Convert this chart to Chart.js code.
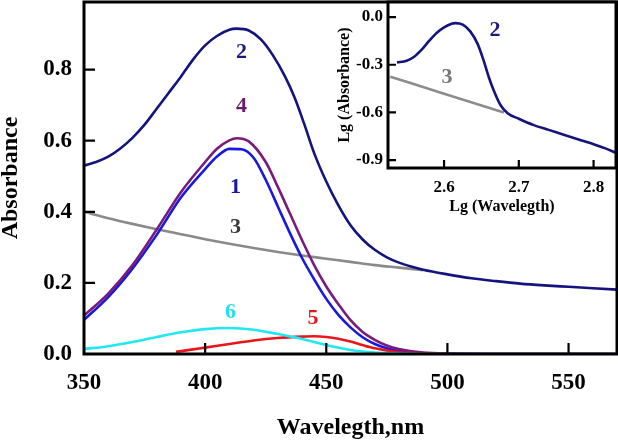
<!DOCTYPE html>
<html>
<head>
<meta charset="utf-8">
<script src="https://cdn.jsdelivr.net/npm/chart.js@4.4.0/dist/chart.umd.min.js"></script>
<style>
  html, body { margin: 0; padding: 0; background: #fff; }
  #wrap { position: relative; width: 618px; height: 443px; }
  #mainChart { position: absolute; left: 0; top: 0; }
  #insetChart { position: absolute; left: 330px; top: 0; }
</style>
</head>
<body>
<div id="wrap">
  <canvas id="mainChart" width="618" height="443"></canvas>
  <canvas id="insetChart" width="288" height="230"></canvas>
</div>
<script>
// main spectra: wavelength (nm) / absorbance
const wl1 = [350, 360, 370, 380, 390, 400, 405, 410, 415, 420, 425, 430, 435, 440, 445, 450, 455, 460, 465, 470, 475, 480, 490, 500, 520, 540, 570];
const abs1 = [0.096, 0.16, 0.24, 0.335, 0.44, 0.52, 0.556, 0.577, 0.576, 0.552, 0.49, 0.415, 0.34, 0.27, 0.21, 0.155, 0.11, 0.075, 0.047, 0.028, 0.016, 0.008, 0.002, 0.001, 0, 0, 0];

const wl2 = [350, 355, 360, 365, 370, 375, 380, 385, 390, 395, 400, 405, 410, 413, 418, 423, 428, 433, 437, 441, 445, 450, 455, 460, 465, 470, 475, 480, 485, 490, 500, 510, 520, 530, 540, 550, 560, 570];
const abs2 = [0.53, 0.54, 0.555, 0.578, 0.608, 0.645, 0.69, 0.735, 0.78, 0.828, 0.868, 0.895, 0.912, 0.915, 0.91, 0.885, 0.84, 0.78, 0.72, 0.645, 0.565, 0.485, 0.418, 0.362, 0.322, 0.293, 0.272, 0.257, 0.246, 0.237, 0.224, 0.213, 0.205, 0.198, 0.193, 0.189, 0.185, 0.181];

const wl3 = [350, 360, 370, 380, 390, 400, 410, 420, 430, 440, 450, 460, 470, 480, 490];
const abs3 = [0.40, 0.382, 0.366, 0.351, 0.337, 0.323, 0.31, 0.298, 0.287, 0.277, 0.268, 0.259, 0.25, 0.243, 0.236];

const wl4 = [350, 360, 370, 380, 390, 400, 405, 410, 413, 418, 425, 430, 435, 440, 445, 450, 455, 460, 465, 470, 475, 480, 490, 500, 520, 540, 570];
const abs4 = [0.108, 0.17, 0.25, 0.35, 0.455, 0.54, 0.578, 0.601, 0.607, 0.598, 0.54, 0.47, 0.395, 0.32, 0.25, 0.19, 0.14, 0.095, 0.062, 0.04, 0.024, 0.014, 0.004, 0.001, 0, 0, 0];

const wl5 = [388, 395, 400, 410, 420, 430, 440, 445, 450, 455, 460, 465, 470, 475, 480, 490, 500, 570];
const abs5 = [0.006, 0.013, 0.018, 0.028, 0.038, 0.045, 0.049, 0.05, 0.048, 0.043, 0.035, 0.025, 0.016, 0.01, 0.005, 0.001, 0, 0];

const wl6 = [350, 360, 370, 380, 390, 400, 410, 420, 430, 440, 450, 460, 470, 480, 490, 500, 570];
const abs6 = [0.014, 0.022, 0.034, 0.048, 0.061, 0.07, 0.073, 0.068, 0.056, 0.042, 0.025, 0.011, 0.004, 0.001, 0, 0, 0];

const xTicks = [350, 400, 450, 500, 550];
const xTickLabels = ['350', '400', '450', '500', '550'];
const yTicks = [0, 0.2, 0.4, 0.6, 0.8];
const yTickLabels = ['0.0', '0.2', '0.4', '0.6', '0.8'];

// inset: lg(wavelength) / lg(absorbance)
const lgWl2 = [2.537, 2.55, 2.56, 2.57, 2.58, 2.59, 2.60, 2.61, 2.615, 2.625, 2.635, 2.645, 2.652, 2.66, 2.668, 2.675, 2.685, 2.70, 2.72, 2.74, 2.76, 2.78, 2.80, 2.815, 2.83];
const lgAbs2 = [-0.285, -0.275, -0.25, -0.205, -0.15, -0.10, -0.065, -0.042, -0.038, -0.048, -0.09, -0.17, -0.26, -0.38, -0.48, -0.55, -0.605, -0.64, -0.68, -0.71, -0.74, -0.77, -0.80, -0.825, -0.855];
const lgWl3 = [2.528, 2.60, 2.68];
const lgAbs3 = [-0.375, -0.482, -0.60];

const insetXTicks = [2.6, 2.7, 2.8];
const insetXTickLabels = ['2.6', '2.7', '2.8'];
const insetYTicks = [0, -0.3, -0.6, -0.9];
const insetYTickLabels = ['0.0', '-0.3', '-0.6', '-0.9'];

const SERIF = '"Liberation Serif", "Times New Roman", serif';
Chart.defaults.color = '#000';
Chart.defaults.font.family = SERIF;

function pts(xs, ys) {
  return xs.map((x, i) => ({ x: x, y: ys[i] }));
}

function line(xs, ys, color, order) {
  return {
    data: pts(xs, ys),
    borderColor: color,
    borderWidth: 2.6,
    pointRadius: 0,
    fill: false,
    cubicInterpolationMode: 'monotone',
    order: order
  };
}

// no extra room for half tick labels: chart area edges are set by the layout padding
function noPadX(s, h) {
  s.height = h;
  s.paddingLeft = 0;
  s.paddingRight = 0;
}
function noPadY(s, w) {
  s.width = w;
  s.paddingTop = 0;
  s.paddingBottom = 0;
}

const framePlugin = {
  id: 'frame',
  beforeDraw(chart, args, opts) {
    if (!opts.whiteFill) return;
    const { ctx, chartArea: a } = chart;
    ctx.save();
    ctx.fillStyle = '#fff';
    ctx.fillRect(a.left, a.top, a.right - a.left, a.bottom - a.top);
    ctx.restore();
  },
  afterDraw(chart, args, opts) {
    const { ctx, chartArea: a, scales } = chart;
    const x = scales.x;
    const y = scales.y;
    ctx.save();
    ctx.strokeStyle = '#000';
    ctx.lineWidth = 3;
    ctx.strokeRect(a.left, a.top, a.right - a.left, a.bottom - a.top);
    ctx.lineWidth = 2.2;
    ctx.beginPath();
    x.ticks.forEach(t => {
      const px = x.getPixelForValue(t.value);
      if (px > a.left + 3 && px < a.right - 3) {
        ctx.moveTo(px, a.bottom);
        ctx.lineTo(px, a.bottom - opts.tick);
      }
    });
    y.ticks.forEach(t => {
      const py = y.getPixelForValue(t.value);
      if (py > a.top + 3 && py < a.bottom - 3) {
        ctx.moveTo(a.left, py);
        ctx.lineTo(a.left + opts.tick, py);
      }
    });
    ctx.stroke();
    ctx.font = 'bold 22px ' + SERIF;
    ctx.textAlign = 'center';
    ctx.textBaseline = 'middle';
    (opts.labels || []).forEach(l => {
      ctx.fillStyle = l.color;
      ctx.fillText(l.text, x.getPixelForValue(l.x), y.getPixelForValue(l.y));
    });
    ctx.restore();
  }
};

const mainLabels = [
  { text: '2', x: 415, y: 0.848, color: '#1a1a80' },
  { text: '4', x: 415, y: 0.696, color: '#6a1a6a' },
  { text: '1', x: 412.5, y: 0.47, color: '#1a1aa0' },
  { text: '3', x: 412.5, y: 0.355, color: '#3a3a3a' },
  { text: '6', x: 410.5, y: 0.118, color: '#22e0e8' },
  { text: '5', x: 444.5, y: 0.101, color: '#e01818' }
];

const insetLabels = [
  { text: '2', x: 2.668, y: -0.082, color: '#1a1a80' },
  { text: '3', x: 2.604, y: -0.377, color: '#777777' }
];

const noGrid = { display: false, drawTicks: false };

new Chart(document.getElementById('mainChart'), {
  type: 'line',
  data: {
    datasets: [
      line(wl2, abs2, '#14147e', 1),
      line(wl3, abs3, '#8a8a8a', 5),
      line(wl1, abs1, '#1818e0', 4),
      line(wl4, abs4, '#781c7c', 3),
      line(wl5, abs5, '#e8161a', 2),
      line(wl6, abs6, '#20e8f0', 0)
    ]
  },
  options: {
    responsive: false,
    animation: false,
    layout: { padding: { top: 2, right: 1, left: 0, bottom: 0 } },
    plugins: {
      legend: { display: false },
      tooltip: { enabled: false },
      frame: { tick: 11, labels: mainLabels }
    },
    scales: {
      x: {
        type: 'linear',
        min: 350,
        max: 570,
        grid: noGrid,
        border: { display: false },
        afterFit: s => noPadX(s, 89),
        afterBuildTicks: s => { s.ticks = xTicks.map(v => ({ value: v })); },
        ticks: {
          padding: 15,
          maxRotation: 0,
          font: { size: 23, weight: 'bold' },
          callback: (v, i) => xTickLabels[i]
        },
        title: {
          display: true,
          text: 'Wavelegth,nm',
          font: { size: 24, weight: 'bold', lineHeight: 1.2 },
          padding: { top: 0, bottom: 1 }
        }
      },
      y: {
        type: 'linear',
        min: 0,
        max: 0.99,
        grid: noGrid,
        border: { display: false },
        afterFit: s => noPadY(s, 84),
        afterBuildTicks: s => { s.ticks = yTicks.map(v => ({ value: v })); },
        ticks: {
          padding: 12,
          font: { size: 23, weight: 'bold' },
          callback: (v, i) => yTickLabels[i]
        },
        title: {
          display: true,
          text: 'Absorbance',
          font: { size: 24, weight: 'bold', lineHeight: 1.0 },
          padding: { top: -1, bottom: 0 }
        }
      }
    }
  },
  plugins: [framePlugin]
});

new Chart(document.getElementById('insetChart'), {
  type: 'line',
  data: {
    datasets: [
      line(lgWl2, lgAbs2, '#14147e', 0),
      line(lgWl3, lgAbs3, '#8c8c8c', 1)
    ]
  },
  options: {
    responsive: false,
    animation: false,
    layout: { padding: { top: 2, right: 2, left: 0, bottom: 0 } },
    plugins: {
      legend: { display: false },
      tooltip: { enabled: false },
      frame: { tick: 8, labels: insetLabels, whiteFill: true }
    },
    scales: {
      x: {
        type: 'linear',
        min: 2.525,
        max: 2.83,
        grid: noGrid,
        border: { display: false },
        afterFit: s => noPadX(s, 62),
        afterBuildTicks: s => { s.ticks = insetXTicks.map(v => ({ value: v })); },
        ticks: {
          padding: 9,
          maxRotation: 0,
          font: { size: 17, weight: 'bold' },
          callback: (v, i) => insetXTickLabels[i]
        },
        title: {
          display: true,
          text: 'Lg (Wavelegth)',
          font: { size: 16, weight: 'bold', lineHeight: 1.2 },
          padding: { top: 0, bottom: 14 }
        }
      },
      y: {
        type: 'linear',
        min: -0.95,
        max: 0.095,
        grid: noGrid,
        border: { display: false },
        afterFit: s => noPadY(s, 58),
        afterBuildTicks: s => { s.ticks = insetYTicks.map(v => ({ value: v })); },
        ticks: {
          padding: 5,
          font: { size: 17, weight: 'bold' },
          callback: (v, i) => insetYTickLabels[i]
        },
        title: {
          display: true,
          text: 'Lg (Absorbance)',
          font: { size: 16, weight: 'bold', lineHeight: 1.2 },
          padding: { top: 5, bottom: 0 }
        }
      }
    }
  },
  plugins: [framePlugin]
});
</script>
</body>
</html>
